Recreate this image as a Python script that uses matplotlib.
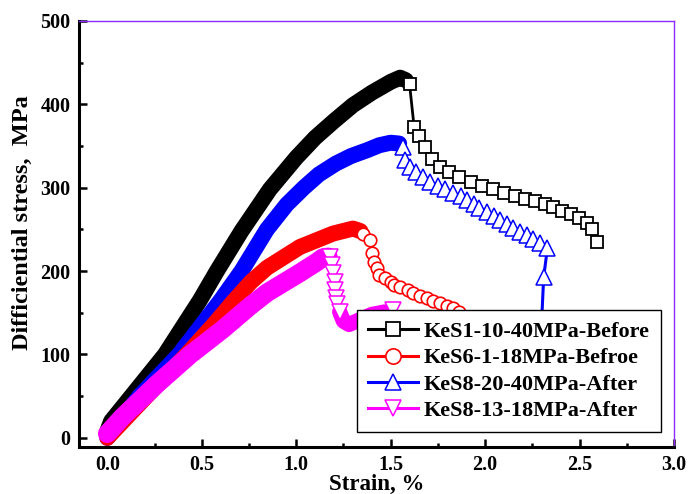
import matplotlib.pyplot as plt
import numpy as np

plt.rcParams['font.family'] = ['Liberation Serif', 'DejaVu Serif']
plt.rcParams['font.weight'] = 'bold'

# KeS1-10-40MPa-Before  (dense rising part, then sparse post-peak points)
ks1_band_x = [0.00, 0.02, 0.12, 0.305, 0.49, 0.58, 0.71, 0.86, 1.00, 1.10, 1.20, 1.30, 1.40, 1.50, 1.55, 1.58]
ks1_band_y = [8, 20, 48, 100, 165, 200, 248, 298, 336, 360, 380, 399, 414, 427, 432, 429]
ks1_x = [1.60, 1.624, 1.651, 1.683, 1.72, 1.762, 1.81, 1.863, 1.926, 1.985, 2.043, 2.101,
         2.16, 2.213, 2.266, 2.319, 2.361, 2.409, 2.456, 2.499, 2.541, 2.568, 2.594]
ks1_y = [424, 373, 362, 349, 335, 325, 319, 313, 307, 302, 299, 294,
         290, 287, 284, 281, 277, 272, 269, 264, 258, 251, 235]

# KeS6-1-18MPa-Befroe
ks6_band_x = [0.00, 0.20, 0.42, 0.56, 0.665, 0.76, 0.845, 1.02, 1.195, 1.30, 1.34]
ks6_band_y = [0, 48, 100, 135, 163, 187, 204, 229, 245, 251, 248]
ks6_x = [1.355, 1.39, 1.40, 1.41, 1.43, 1.44, 1.47, 1.50, 1.52, 1.55, 1.59, 1.62,
         1.655, 1.69, 1.725, 1.76, 1.80, 1.83, 1.86]
ks6_y = [245, 237, 222, 211, 204, 195, 192, 187, 183, 181, 177, 174,
         170, 168, 164, 162, 158, 156, 151]

# KeS8-20-40MPa-After
ks8a_band_x = [0.00, 0.17, 0.38, 0.60, 0.71, 0.845, 0.95, 1.04, 1.12, 1.21, 1.29, 1.375, 1.44, 1.50, 1.545]
ks8a_band_y = [0, 50, 100, 165, 200, 250, 280, 300, 316, 329, 338, 345, 351, 354, 353]
ks8a_x = [1.566, 1.577, 1.603, 1.635, 1.67, 1.71, 1.75, 1.79, 1.83, 1.87, 1.905, 1.94,
          1.97, 2.01, 2.045, 2.08, 2.115, 2.15, 2.185, 2.22, 2.255, 2.29, 2.33, 2.31, 2.295]
ks8a_y = [349, 333, 325, 319, 313, 307, 302, 299, 294, 290, 285, 281,
          276, 271, 266, 261, 257, 252, 247, 243, 239, 234, 228, 193, 120]

# KeS8-13-18MPa-After
ks8b_band_x = [0.00, 0.08, 0.26, 0.44, 0.61, 0.755, 0.845, 1.02, 1.11, 1.14, 1.17]
ks8b_band_y = [5, 25, 64, 100, 130, 158, 174, 198, 211, 216, 217]
ks8b_drop_x = [1.18, 1.19, 1.195, 1.205, 1.205, 1.21, 1.215, 1.23]
ks8b_drop_y = [217, 207, 198, 187, 177, 168, 160, 151]
ks8b_tail_x = [1.23, 1.25, 1.28, 1.33, 1.40, 1.47, 1.51]
ks8b_tail_y = [151, 140, 136, 141, 148, 151, 153]

fig = plt.figure(figsize=(6.88, 4.94), dpi=100)
ax = fig.add_axes([0.1148, 0.0951, 0.8649, 0.8624])

#DENSE MARKER BANDS (drawn as thick lines)
band = dict(solid_capstyle='round', solid_joinstyle='round')
ax.plot(ks1_band_x, ks1_band_y, '-', color='black', lw=11.5, zorder=2, **band)
ax.plot(ks8a_band_x, ks8a_band_y, '-', color='blue', lw=11.5, zorder=3, **band)
ax.plot(ks6_band_x, ks6_band_y, '-', color='red', lw=11.5, zorder=4, **band)
ax.plot(ks8b_band_x, ks8b_band_y, '-', color='magenta', lw=13.5, zorder=5, **band)
ax.plot(ks8b_tail_x[:-1], ks8b_tail_y[:-1], '-', color='magenta', lw=11, zorder=5, **band)

#SPARSE POST-PEAK POINTS
ax.plot([ks1_band_x[-1]] + ks1_x, [ks1_band_y[-1]] + ks1_y, '-', color='black', lw=2, zorder=2)
ax.plot(ks1_x, ks1_y, 's', mfc='white', mec='black', ms=8.6, mew=1.3, zorder=2)
ax.plot([ks6_band_x[-1]] + ks6_x, [ks6_band_y[-1]] + ks6_y, '-', color='red', lw=2, zorder=4)
ax.plot(ks6_x, ks6_y, 'o', mfc='white', mec='red', ms=9, mew=1.2, zorder=4)
ax.plot([ks8a_band_x[-1]] + ks8a_x, [ks8a_band_y[-1]] + ks8a_y, '-', color='blue', lw=2.2, zorder=3)
ax.plot(ks8a_x, ks8a_y, '^', mfc='white', mec='blue', ms=11.5, mew=1.1, zorder=3)
ax.plot(ks8b_drop_x, ks8b_drop_y, '-', color='magenta', lw=2, zorder=5)
ax.plot(ks8b_drop_x, ks8b_drop_y, 'v', mfc='white', mec='magenta', ms=11.5, mew=1.1, zorder=5)
ax.plot(ks8b_tail_x[-1:], ks8b_tail_y[-1:], 'v', mfc='white', mec='magenta', ms=11.5, mew=1.1, zorder=5)

# legend handles
h1, = ax.plot([], [], '-s', color='black', lw=2.2, mfc='white', mec='black', ms=9.5, mew=1.3)
h2, = ax.plot([], [], '-o', color='red', lw=2.2, mfc='white', mec='red', ms=11, mew=1.2)
h3, = ax.plot([], [], '-^', color='blue', lw=2.2, mfc='white', mec='blue', ms=12, mew=1.1)
h4, = ax.plot([], [], '-v', color='magenta', lw=2.2, mfc='white', mec='magenta', ms=12, mew=1.1)
labels = ['KeS1-10-40MPa-Before', 'KeS6-1-18MPa-Befroe', 'KeS8-20-40MPa-After', 'KeS8-13-18MPa-After']
leg = ax.legend([h1, h2, h3, h4], labels, loc='lower right', bbox_to_anchor=(0.978, 0.035),
                borderaxespad=0, handlelength=2.25, handletextpad=0.27,
                labelspacing=0.26, borderpad=0.5, fancybox=False, framealpha=1,
                edgecolor='black', prop={'weight': 'bold', 'size': 16})
leg.get_frame().set_linewidth(1.0)
leg.set_zorder(10)

#AXES
ax.set_xlim(-0.15, 3.0)
ax.set_ylim(-11, 500)
ax.set_xticks(np.arange(0, 3.01, 0.5))
ax.set_xticks(np.arange(0.25, 3.0, 0.5), minor=True)
ax.set_yticks(np.arange(0, 501, 100))
ax.set_yticks(np.arange(50, 500, 100), minor=True)
ax.set_xticklabels(['0.0', '0.5', '1.0', '1.5', '2.0', '2.5', '3.0'])
ax.tick_params(which='major', direction='in', length=6, width=1.8, labelsize=14.5, pad=6)
ax.tick_params(which='minor', direction='in', length=3, width=1.8)
for s in ['left', 'bottom']:
    ax.spines[s].set_linewidth(2.2)
for s in ['top', 'right']:
    ax.spines[s].set_color('#8c2cff')
    ax.spines[s].set_linewidth(1.0)

ax.set_xlabel('Strain, %', fontsize=16.5, fontweight='bold', labelpad=-1)
ax.set_ylabel('Difficiential stress,  MPa', fontsize=17.5, fontweight='bold')
ax.yaxis.set_label_coords(-0.077, 0.526)

fig.savefig('out.png', dpi=100)
